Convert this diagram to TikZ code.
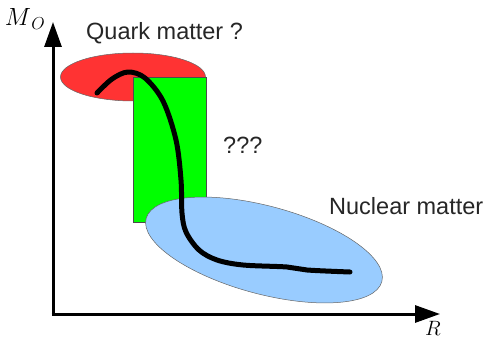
\documentclass[tikz,border=0pt]{standalone}
\usepackage{fontspec}
\setmainfont{Liberation Sans}
\usetikzlibrary{arrows.meta}
\begin{document}
\begin{tikzpicture}[x=1pt,y=-1pt,
  lbl/.style={font=\fontsize{23.5}{27}\selectfont, text=black!85, inner sep=0pt},
  axislbl/.style={font=\fontsize{22}{26}\selectfont, inner sep=0pt},
  axis/.style={line width=3pt, -{Triangle[length=25pt,width=17pt]}},
  thinedge/.style={draw=black!60, line width=0.5pt}]
\useasboundingbox (0,0) rectangle (489,339);
% regions
\fill[red!80!white, thinedge] (133,77) ellipse [x radius=72.5, y radius=24];
\fill[green, draw=black!70, line width=0.5pt] (133,77) rectangle (206,222);
\fill[fill={rgb,255:red,153;green,204;blue,255}, thinedge, rotate around={-15:(264,250)}]
  (264,250) ellipse [x radius=122, y radius=44];
% curve
\draw[line width=5pt, line cap=round, line join=round]
  plot[smooth, tension=0.55] coordinates {(97,93) (112,79) (128,72) (145,78) (163,101) (176,140) (181,180) (182,213) (186,232) (199,250) (217,260) (243,265) (287,267) (307,270) (350,272)};
% axes
\coordinate (ytip) at (53,22);
\coordinate (xtip) at (440,314);
\draw[axis] (53,315.5) -- (ytip);
\draw[axis] (51.5,314) -- (xtip);
\node[axislbl, font=\fontsize{25}{29}\selectfont] (ml) at (25,19) {$M_{\,O}$};
\node[axislbl] (rl) at (433,328) {$R$};
% labels
\node[lbl, anchor=west] (qm) at (86,33) {Quark matter ?};
\node[lbl, anchor=west] (qq) at (223,145) {???};
\node[lbl, anchor=west] (nm) at (329,206) {Nuclear matter};
\end{tikzpicture}
\end{document}
